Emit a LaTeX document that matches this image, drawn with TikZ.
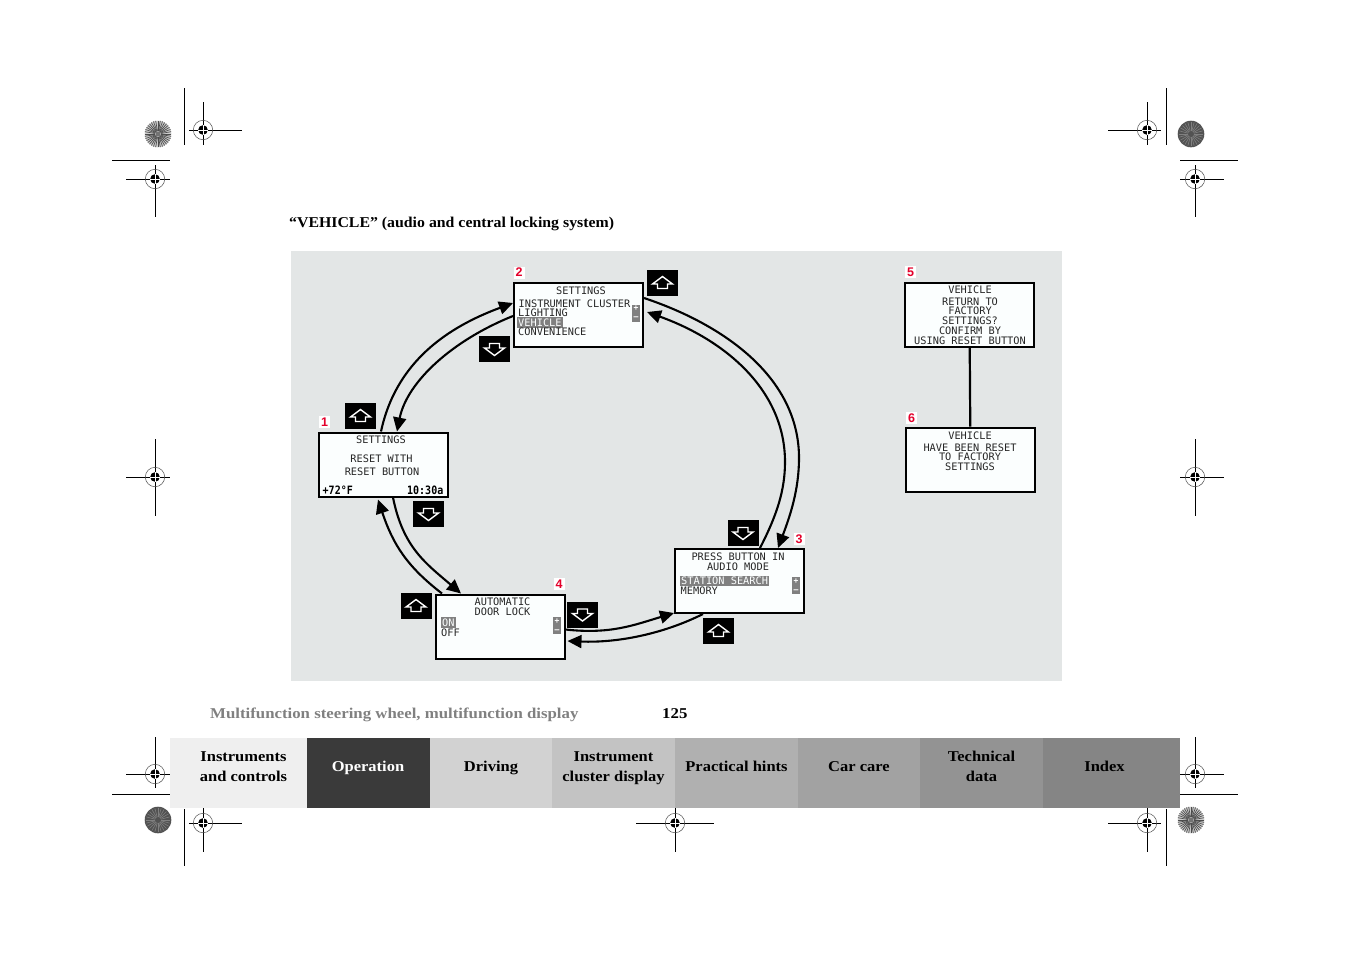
\documentclass[tikz,border=0pt]{standalone}
\usepackage{fontspec}
\setmainfont{Liberation Serif}
\newfontfamily\titlefont[FakeStretch=1.055]{Liberation Serif}
\newfontfamily\footfont[FakeStretch=1.12]{Liberation Serif}
\newfontfamily\tabfont[FakeStretch=1.1]{Liberation Serif}
\newfontfamily\lcdfont{DejaVu Sans Mono}
\newfontfamily\statfont[FakeStretch=0.87]{DejaVu Sans Mono}
\newfontfamily\numfont{Liberation Sans}
\usetikzlibrary{arrows.meta}
\definecolor{panelgrey}{HTML}{E3E6E6}
\definecolor{lcdwhite}{HTML}{FBFEFE}
\definecolor{markred}{HTML}{E4002B}
\definecolor{hilite}{HTML}{808080}

\begin{document}
\begin{tikzpicture}[
x=1pt,
y=-1pt,
lcd/.style={
draw,
line width=2pt,
fill=lcdwhite,
minimum width=129pt,
minimum height=64pt,
inner sep=0pt
},
flow/.style={
-{Triangle[length=14pt,width=13pt]},
line width=2.1pt
},
lcdtext/.style={
font=\lcdfont\fontsize{10.3}{9.7}\selectfont,
text=black!85,
align=center,
inner sep=0pt,
anchor=base
},
lcdleft/.style={
lcdtext,
align=left,
anchor=base west
},
lcdsel/.style={
lcdleft,
fill=hilite,
text=lcdwhite,
inner xsep=1pt,
inner ysep=1.2pt,
text height=7.4pt,
text depth=0.6pt
},
status/.style={
font=\statfont\bfseries\fontsize{11.5}{11}\selectfont,
inner sep=0pt,
anchor=base
},
scrollbar/.style={
fill=hilite,
minimum width=8pt,
minimum height=17pt,
inner sep=0pt,
text=white,
align=center,
font=\lcdfont\bfseries\fontsize{8}{9}\selectfont
},
number/.style={
fill=white,
text=markred,
font=\numfont\bfseries\fontsize{12.5}{12}\selectfont,
minimum width=11pt,
minimum height=12pt,
inner sep=0pt
},
button/.style={
fill=black,
minimum width=31pt,
minimum height=26pt,
inner sep=0pt
},
upbutton/.style={
button,
path picture={
\draw[white,line width=1.4pt,shift={(path picture bounding box.center)}]
(0,-6.5) -- (10,1) -- (5,1) -- (5,5.5) -- (-5,5.5) -- (-5,1) -- (-10,1) -- cycle;
}
},
downbutton/.style={
button,
path picture={
\draw[white,line width=1.4pt,shift={(path picture bounding box.center)}]
(0,6.5) -- (10,-1) -- (5,-1) -- (5,-5.5) -- (-5,-5.5) -- (-5,-1) -- (-10,-1) -- cycle;
}
},
tabcell/.style={
minimum height=70pt,
inner sep=0pt
},
tablabel/.style={
font=\tabfont\bfseries\fontsize{15}{20}\selectfont,
align=center,
inner sep=0pt
},
pagetext/.style={
font=\footfont\bfseries\fontsize{15}{18}\selectfont,
inner sep=0pt,
anchor=base west
},
cropline/.style={
line width=0.9pt
}
]
\useasboundingbox (0,0) rectangle (1351,954);

% crop marks
\foreach \cx/\cy/\hl/\hr/\vt/\vb in {
203/130/189/242/102/145, 155/179/126/170/165/217,
1147/130/1108/1161/102/145, 1195/179/1180/1224/165/217,
155/477/126/170/439/516, 1195/477/1180/1224/439/516,
155/774/126/170/737/788, 1195/774/1180/1224/737/788,
203/823/189/242/808/852, 675/823/636/714/808/852,
1147/823/1108/1161/808/852} {
\draw[cropline] (\hl,\cy) -- (\hr,\cy);
\draw[cropline] (\cx,\vt) -- (\cx,\vb);
\draw[line width=0.5pt,black!70] (\cx,\cy) circle (9.7);
\fill (\cx,\cy) circle (4.8);
\draw[white,line width=0.9pt] (\cx-5,\cy) -- (\cx+5,\cy) (\cx,\cy-5) -- (\cx,\cy+5);
}
\foreach \xa/\ya/\xb/\yb in {
184/88/184/145, 112/160/170/160, 1166/88/1166/145, 1180/160/1238/160,
112/794/170/794, 1180/794/1238/794, 184/809/184/866, 1166/809/1166/866} {
\draw[cropline] (\xa,\ya) -- (\xb,\yb);
}

% colour discs
\foreach \cx/\cy in {158/134, 1191/820} {
\fill[black!20] (\cx,\cy) circle (13.3);
\foreach \a in {0,10,...,350} {
\draw[line width=0.7pt,black!70] (\cx,\cy) ++(\a:3) -- ++(\a:10.3);
}
\fill[black!55] (\cx,\cy) circle (2.5);
}
\foreach \cx/\cy in {1191/134, 158/820} {
\fill[black!68] (\cx,\cy) circle (13.3);
\foreach \a in {0,15,...,345} {
\draw[line width=0.6pt,black!50] (\cx,\cy) ++(\a:3) -- ++(\a:9);
}
}

\node[pagetext,font=\titlefont\bfseries\fontsize{15}{18}\selectfont] (title) at (289,227) {“VEHICLE” (audio and central locking system)};

% grey panel
\fill[panelgrey] (291,251) rectangle (1062,681);

\node[lcd] (box1) at (383,464.5) {};
\node[lcd] (box2) at (578.5,314.5) {};
\node[lcd] (box3) at (739.5,581) {};
\node[lcd] (box4) at (500,626.5) {};
\node[lcd] (box5) at (969.5,315) {};
\node[lcd] (box6) at (970.5,459.5) {};

\node[number] (num1) at (324.5,422) {1};
\node[number] (num2) at (519,272.5) {2};
\node[number] (num3) at (799,539) {3};
\node[number] (num4) at (559,584) {4};
\node[number] (num5) at (910.5,272) {5};
\node[number] (num6) at (911.5,418) {6};

\node[upbutton] (up1) at (360.5,416) {};
\node[downbutton] (down2) at (494.5,349) {};
\node[upbutton] (up2) at (662.5,283) {};
\node[downbutton] (down1) at (428.5,514) {};
\node[downbutton] (down3) at (743,533) {};
\node[upbutton] (up4) at (416,606) {};
\node[downbutton] (down4) at (582.5,614.5) {};
\node[upbutton] (up3) at (718.5,631) {};

% box 1
\node[lcdtext] (txt1a) at (381,443) {SETTINGS};
\node[lcdtext] (txt1b) at (381.5,462) {RESET WITH};
\node[lcdtext] (txt1c) at (382,475) {RESET BUTTON};
\node[status,anchor=base west] (txt1d) at (322.5,494) {+72°F};
\node[status,anchor=base east] (txt1e) at (443.5,494) {10:30a};

% box 2
\node[lcdtext] (txt2a) at (581,294) {SETTINGS};
\node[lcdleft] (txt2b) at (518.5,307) {INSTRUMENT CLUSTER};
\node[lcdleft] (txt2c) at (518,316.5) {LIGHTING};
\node[lcdsel] (txt2d) at (517,326) {VEHICLE};
\node[lcdleft] (txt2e) at (518,335.5) {CONVENIENCE};
\node[scrollbar] (bar2) at (636,313) {+\\–};

% box 3
\node[lcdtext] (txt3a) at (738,570.3) {PRESS BUTTON IN\\AUDIO MODE};
\node[lcdsel] (txt3b) at (680,584.5) {STATION SEARCH};
\node[lcdleft] (txt3c) at (680.5,594.5) {MEMORY};
\node[scrollbar] (bar3) at (796,585.5) {+\\–};

% box 4
\node[lcdtext] (txt4a) at (502.5,615.5) {AUTOMATIC\\DOOR LOCK};
\node[lcdsel] (txt4b) at (441,626) {ON};
\node[lcdleft] (txt4c) at (441,636) {OFF};
\node[scrollbar] (bar4) at (557,625.5) {+\\–};

% box 5
\node[lcdtext] (txt5a) at (970,293.5) {VEHICLE};
\node[lcdtext] (txt5b) at (970,344) {RETURN TO\\FACTORY\\SETTINGS?\\CONFIRM BY\\USING RESET BUTTON};

% box 6
\node[lcdtext] (txt6a) at (970,439.5) {VEHICLE};
\node[lcdtext] (txt6b) at (970,470.5) {HAVE BEEN RESET\\TO FACTORY\\SETTINGS};

\coordinate (outerbend) at (799,458);
\coordinate (innerbend) at (785,462);

% arrows round the loop
\draw[flow] ([xshift=-2pt]box1.north) .. controls +(15,-70) and +(-65,24) .. ([yshift=11.5pt]box2.west);
\draw[flow] ([yshift=-1.5pt]box2.west) .. controls +(-60,24) and +(10,-50) .. ([xshift=14pt]box1.north);
\draw[flow] ([yshift=16.5pt]box2.east) .. controls +(81,27) and +(0,-80) .. (outerbend) .. controls +(0,32) and +(12,-32) .. ([xshift=38.5pt]box3.north);
\draw[flow] ([xshift=20.5pt]box3.north) .. controls +(17,-33) and +(0,28) .. (innerbend) .. controls +(0,-72) and +(78,28) .. ([xshift=3pt,yshift=2.5pt]box2.east);
\draw[flow] ([xshift=-36.5pt]box3.south) .. controls +(-40,20) and +(50,2) .. ([xshift=2pt,yshift=-14.5pt]box4.east);
\draw[flow] ([yshift=-3pt]box4.east) .. controls +(45,5) and +(-40,12) .. ([yshift=-32pt]box3.west);
\draw[flow] ([xshift=-58pt]box4.north) .. controls +(-35,-27) and +(15,45) .. ([xshift=-5pt,yshift=-2pt]box1.south);
\draw[flow] ([xshift=10pt]box1.south) .. controls +(10,50) and +(-35,-30) .. ([xshift=-39pt]box4.north);

\draw[line width=2.2pt] (box5) -- (box6);

\node[pagetext,text=black!50] (foot) at (210,718) {Multifunction steering wheel, multifunction display};
\node[pagetext] (page) at (662,718) {125};

% tab band
\foreach \tabname/\tx/\tw/\tc/\tt/\lx/\tl in {
taba/238.5/137/EFEFEF/black/243.5/{Instruments\\and controls},
tabb/368.5/123/3A3A3A/white/368/{Operation},
tabc/491/122/D2D2D2/black/491/{Driving},
tabd/613.5/123/C3C3C3/black/613.5/{Instrument\\cluster display},
tabe/736.5/123/B0B0B0/black/736.5/{Practical hints},
tabf/859/122/A2A2A2/black/859/{Car care},
tabg/981.5/123/939393/black/981.5/{Technical\\data},
tabh/1111.5/137/858585/black/1104.5/{Index}} {
\definecolor{tabfill}{HTML}{\tc}
\node[tabcell,fill=tabfill,minimum width=\tw pt] (\tabname) at (\tx,773) {};
\node[tablabel,text=\tt] (\tabname l) at (\lx,767) {\strut\tl\strut};
}
\end{tikzpicture}
\end{document}
